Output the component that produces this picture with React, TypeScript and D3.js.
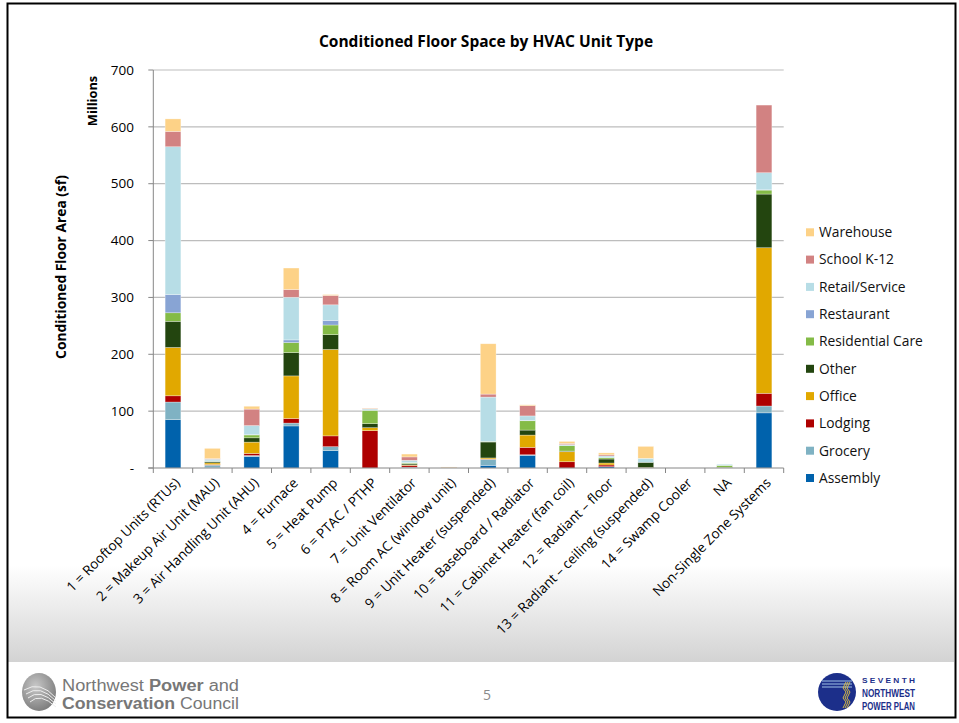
import React, { useEffect, useRef } from 'react'
import * as d3 from 'd3'

const categories = [
  '1 = Rooftop Units (RTUs)',
  '2 = Makeup Air Unit (MAU)',
  '3 = Air Handling Unit (AHU)',
  '4 = Furnace',
  '5 = Heat Pump',
  '6 = PTAC / PTHP',
  '7 = Unit Ventilator',
  '8 = Room AC (window unit)',
  '9 = Unit Heater (suspended)',
  '10 = Baseboard / Radiator',
  '11 = Cabinet Heater (fan coil)',
  '12 = Radiant \u2013 floor',
  '13 = Radiant \u2013 ceiling (suspended)',
  '14 = Swamp Cooler',
  'NA',
  'Non-Single Zone Systems',
]

// millions of sf
const assembly = [85, 1, 20, 74, 30.5, 0, 1, 0, 4.7, 22.3, 0, 2.3, 0, 0, 0, 97]
const grocery = [31, 4, 2, 5, 7, 0, 0.5, 0, 10.5, 1, 0, 0, 0, 0, 0, 12]
const lodging = [11, 1, 3.5, 8, 19, 65.6, 3, 0, 0.5, 13, 11, 3, 0, 0, 0, 22.4]
const office = [85, 3, 20, 75, 152, 5.3, 1, 0, 2, 21.6, 17.6, 3.5, 1, 0, 0.5, 256]
const other = [46, 2, 7.6, 41, 26, 7, 2, 0, 28, 8.8, 1.2, 7, 9, 0, 0.5, 94.4]
const residentialCare = [15, 1, 5, 17.6, 17, 23.5, 1.5, 0, 1, 16.4, 9.4, 2.3, 0, 0, 3.5, 7]
const restaurant = [32, 0.5, 0.5, 4.7, 8, 0, 0.5, 0, 0, 0.5, 0, 0, 0, 0, 0, 0.5]
const retailService = [260, 3, 16, 75, 27.5, 2.3, 4, 0.3, 78, 8, 2, 3, 7, 0, 2, 30]
const schoolK12 = [27, 1, 29, 13.6, 16.5, 1, 6, 0.5, 5.3, 18, 2, 2, 0, 0, 0, 119]
const warehouse = [22, 18, 5, 37.8, 1.5, 0.5, 5, 1, 88.5, 1.5, 3.5, 3.5, 21, 0, 0, 0]

const seriesNames = ['Assembly', 'Grocery', 'Lodging', 'Office', 'Other', 'Residential Care', 'Restaurant', 'Retail/Service', 'School K-12', 'Warehouse']
const seriesValues = [assembly, grocery, lodging, office, other, residentialCare, restaurant, retailService, schoolK12, warehouse]
const seriesColors = ['#0062AC', '#7FB2C3', '#AE0000', '#E1A800', '#23450F', '#84BB47', '#88A4D4', '#B7DDE6', '#D28282', '#FDD287']

const yTicks = [0, 100, 200, 300, 400, 500, 600, 700]

const W = 959, H = 723
const FONT = '"Open Sans", "Liberation Sans", sans-serif'

function App() {
  const ref = useRef<SVGSVGElement>(null)

  useEffect(() => {
    const svg = d3.select(ref.current)
    svg.selectAll('*').remove()

    // slide background
    const defs = svg.append('defs')
    const grad = defs.append('linearGradient').attr('id', 'bottomFade')
      .attr('x1', 0).attr('y1', 0).attr('x2', 0).attr('y2', 1)
    grad.append('stop').attr('offset', '0%').attr('stop-color', '#ffffff')
    grad.append('stop').attr('offset', '100%').attr('stop-color', '#d3d3d3')
    const logoGrad = defs.append('radialGradient').attr('id', 'logoGray')
      .attr('cx', '40%').attr('cy', '35%').attr('r', '70%')
    logoGrad.append('stop').attr('offset', '0%').attr('stop-color', '#c8c8c8')
    logoGrad.append('stop').attr('offset', '100%').attr('stop-color', '#7a7a7a')

    svg.append('rect').attr('width', W).attr('height', H).attr('fill', '#fff')
    svg.append('rect').attr('x', 8).attr('y', 565).attr('width', 946).attr('height', 97)
      .attr('fill', 'url(#bottomFade)')

    const x = d3.scaleBand<string>()
      .domain(categories)
      .range([153.3, 783.7])
      .paddingInner(0.6)
      .paddingOuter(0.3)
    const y = d3.scaleLinear().domain([0, 700]).range([468, 70])
    const x0 = 153.3, x1 = 783.7

    // title
    svg.append('text')
      .attr('x', 486).attr('y', 47)
      .attr('text-anchor', 'middle')
      .attr('font-family', FONT).attr('font-weight', 'bold').attr('font-size', 15.5)
      .text('Conditioned Floor Space by HVAC Unit Type')

    // gridlines
    svg.append('g').selectAll('line')
      .data(yTicks.slice(1))
      .enter().append('line')
      .attr('x1', x0).attr('x2', x1)
      .attr('y1', d => y(d)).attr('y2', d => y(d))
      .attr('stroke', '#bdbdbd').attr('stroke-width', 1.2)

    // y ticks + labels
    svg.append('g').selectAll('line')
      .data(yTicks)
      .enter().append('line')
      .attr('x1', x0 - 5).attr('x2', x0)
      .attr('y1', d => y(d)).attr('y2', d => y(d))
      .attr('stroke', '#868686')
    svg.append('g').selectAll('text')
      .data(yTicks)
      .enter().append('text')
      .attr('x', 134).attr('y', d => y(d))
      .attr('dy', '0.35em')
      .attr('text-anchor', 'end')
      .attr('font-family', FONT).attr('font-size', 13.5).attr('fill', '#000')
      .text(d => d === 0 ? '-' : String(d))

    // axis titles
    svg.append('text')
      .attr('transform', 'translate(97,101) rotate(-90)')
      .attr('text-anchor', 'middle')
      .attr('font-family', FONT).attr('font-weight', 'bold').attr('font-size', 12.8)
      .text('Millions')
    svg.append('text')
      .attr('transform', 'translate(66,267) rotate(-90)')
      .attr('text-anchor', 'middle')
      .attr('font-family', FONT).attr('font-weight', 'bold').attr('font-size', 13.8)
      .text('Conditioned Floor Area (sf)')

    // stacked bars
    const rows = categories.map((c, i) => {
      const r: any = { cat: c }
      seriesNames.forEach((s, j) => { r[s] = seriesValues[j][i] })
      return r
    })
    const stacked = d3.stack<any>().keys(seriesNames)(rows)
    svg.append('g').selectAll('g')
      .data(stacked)
      .enter().append('g')
      .attr('fill', (d, i) => seriesColors[i])
      .selectAll('rect')
      .data(d => d.filter(p => p[1] - p[0] > 0))
      .enter().append('rect')
      .attr('x', d => x(d.data.cat) as number)
      .attr('width', x.bandwidth())
      .attr('y', d => y(d[1]))
      .attr('height', d => y(d[0]) - y(d[1]))
      .attr('stroke', '#ffffff').attr('stroke-opacity', 0.5).attr('stroke-width', 0.6)

    // axes lines
    svg.append('line').attr('x1', x0).attr('x2', x0).attr('y1', y(700)).attr('y2', y(0))
      .attr('stroke', '#868686')
    svg.append('line').attr('x1', x0 - 5).attr('x2', x1).attr('y1', y(0)).attr('y2', y(0))
      .attr('stroke', '#868686')
    svg.append('g').selectAll('line')
      .data(d3.range(categories.length + 1))
      .enter().append('line')
      .attr('x1', i => x0 + i * x.step()).attr('x2', i => x0 + i * x.step())
      .attr('y1', y(0)).attr('y2', y(0) + 5)
      .attr('stroke', '#868686')

    // category labels
    svg.append('g').selectAll('text')
      .data(categories)
      .enter().append('text')
      .attr('transform', d => 'translate(' + ((x(d) as number) + x.bandwidth() / 2 + 2) + ',478) rotate(-45)')
      .attr('dy', '0.6em')
      .attr('text-anchor', 'end')
      .attr('font-family', FONT).attr('font-size', 13.6).attr('fill', '#000')
      .text(d => d)

    // legend
    const legend = svg.append('g').selectAll('g')
      .data(seriesNames.slice().reverse())
      .enter().append('g')
      .attr('transform', (d, i) => 'translate(806,' + (232.3 + i * 27.3) + ')')
    legend.append('rect')
      .attr('x', 0).attr('y', -4).attr('width', 8).attr('height', 8)
      .attr('fill', d => seriesColors[seriesNames.indexOf(d)])
    legend.append('text')
      .attr('x', 13).attr('dy', '0.35em')
      .attr('font-family', FONT).attr('font-size', 13.8).attr('fill', '#111')
      .text(d => d)

    // footer
    svg.append('text')
      .attr('x', 487).attr('y', 700)
      .attr('text-anchor', 'middle')
      .attr('font-family', FONT).attr('font-size', 14).attr('fill', '#8a8a8a')
      .text('5')

    const left = svg.append('g')
    left.append('ellipse').attr('cx', 39).attr('cy', 692).attr('rx', 17).attr('ry', 19)
      .attr('fill', 'url(#logoGray)')
    ;[0, 1, 2, 3].forEach(k => {
      left.append('path')
        .attr('d', 'M' + (24 + k * 2) + ',' + (690 + k * 4) + ' Q40,' + (680 + k * 4) + ' 56,' + (698 + k * 3))
        .attr('fill', 'none').attr('stroke', '#eeeeee').attr('stroke-width', 1)
    })
    const t1 = left.append('text').attr('x', 62).attr('y', 691)
      .attr('font-family', '"Liberation Sans", sans-serif').attr('font-size', 16).attr('fill', '#777')
      .attr('textLength', 177).attr('lengthAdjust', 'spacingAndGlyphs')
    t1.append('tspan').text('Northwest ')
    t1.append('tspan').attr('font-weight', 'bold').text('Power')
    t1.append('tspan').text(' and')
    const t2 = left.append('text').attr('x', 62).attr('y', 709)
      .attr('font-family', '"Liberation Sans", sans-serif').attr('font-size', 16).attr('fill', '#777')
      .attr('textLength', 177).attr('lengthAdjust', 'spacingAndGlyphs')
    t2.append('tspan').attr('font-weight', 'bold').text('Conservation')
    t2.append('tspan').text(' Council')

    const right = svg.append('g')
    right.append('circle').attr('cx', 837).attr('cy', 692).attr('r', 19).attr('fill', '#1c2f8a')
    ;[0, 1, 2].forEach(k => {
      right.append('line').attr('x1', 822).attr('x2', 852)
        .attr('y1', 681 + k * 3).attr('y2', 681 + k * 3)
        .attr('stroke', '#9fc3e6').attr('stroke-width', 1)
    })
    ;[0, 1, 2].forEach(k => {
      right.append('path')
        .attr('d', 'M' + (846 + k * 2) + ',682 l-3,6 l3,4 l-3,6 l3,4 l-3,6')
        .attr('fill', 'none').attr('stroke', '#e8c840').attr('stroke-width', 0.9)
    })
    const rtext = [['S E V E N T H', 683, 8], ['NORTHWEST', 697, 11], ['POWER PLAN', 710, 11]] as [string, number, number][]
    rtext.forEach(([s, yy, fs]) => {
      right.append('text').attr('x', 862).attr('y', yy)
        .attr('font-family', '"Liberation Sans", sans-serif').attr('font-weight', 'bold')
        .attr('font-size', fs).attr('fill', '#1c2f8a')
        .attr('textLength', 53).attr('lengthAdjust', 'spacingAndGlyphs')
        .text(s)
    })

    // slide frame
    svg.append('rect').attr('x', 7.5).attr('y', 3.5).attr('width', 948).attr('height', 714)
      .attr('fill', 'none').attr('stroke', '#000').attr('stroke-width', 2)
  }, [])

  return (
    <svg ref={ref} width={W} height={H} style={{ position: 'absolute', left: 0, top: 0, display: 'block' }} />
  )
}

export default App
